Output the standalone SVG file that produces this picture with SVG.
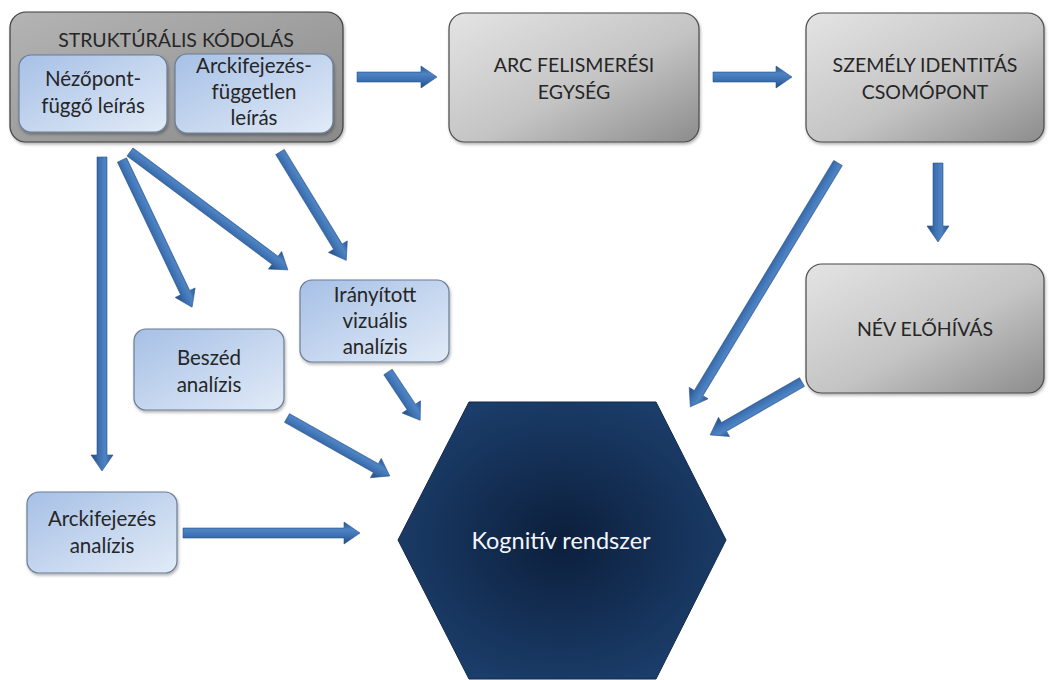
<svg xmlns="http://www.w3.org/2000/svg" width="1049" height="680" viewBox="0 0 1049 680">
  <defs>
    <linearGradient id="grayFill" x1="0" y1="0" x2="1" y2="1">
      <stop offset="0" stop-color="#e4e4e4"/>
      <stop offset="0.55" stop-color="#c4c4c4"/>
      <stop offset="1" stop-color="#8c8c8c"/>
    </linearGradient>
    <linearGradient id="outerFill" x1="0" y1="0" x2="1" y2="1">
      <stop offset="0" stop-color="#b4b4b4"/>
      <stop offset="1" stop-color="#8a8a8a"/>
    </linearGradient>
    <linearGradient id="blueFill" x1="0" y1="0" x2="1" y2="1">
      <stop offset="0" stop-color="#a6c0e6"/>
      <stop offset="1" stop-color="#e2ebf7"/>
    </linearGradient>
    <radialGradient id="hexFill" cx="0.5" cy="0.5" r="0.55">
      <stop offset="0" stop-color="#0c1f3c"/>
      <stop offset="1" stop-color="#1b3d6a"/>
    </radialGradient>
    <linearGradient id="arrowFill" x1="0" y1="0" x2="0" y2="1">
      <stop offset="0" stop-color="#2a5590"/>
      <stop offset="0.35" stop-color="#4f84c4"/>
      <stop offset="0.65" stop-color="#3b6fb0"/>
      <stop offset="1" stop-color="#24497e"/>
    </linearGradient>
    <filter id="shadow" x="-10%" y="-10%" width="125%" height="130%">
      <feDropShadow dx="1" dy="2" stdDeviation="1.5" flood-color="#000" flood-opacity="0.3"/>
    </filter>
  </defs>
  <style>
    .gray { fill: url(#grayFill); stroke: #4a4a4a; stroke-width: 1.2; filter: url(#shadow); }
    .outer { fill: url(#outerFill); stroke: #3c3c3c; stroke-width: 1.2; filter: url(#shadow); }
    .blue { fill: url(#blueFill); stroke: #6a7c96; stroke-width: 1.2; filter: url(#shadow); }
    .arrow { fill: url(#arrowFill); stroke: #2a5590; stroke-width: 0.6; }
    text { font-family: Lato, "Open Sans", "Liberation Sans", sans-serif; font-size: 20.5px; fill: #262626; text-anchor: middle; }
    .cap { font-size: 19.5px; }
    .white { fill: #f4f6fa; font-size: 23.5px; }
  </style>

  <rect width="1049" height="680" fill="#ffffff"/>

  <!-- connectors: block arrows, each drawn along +x then placed -->
  <g id="connectors">
    <polygon class="arrow" transform="translate(357,77)" points="0,-5 64,-5 64,-11 80,0 64,11 64,5 0,5"/>
    <polygon class="arrow" transform="translate(713,77)" points="0,-5 63,-5 63,-11 79,0 63,11 63,5 0,5"/>
    <polygon class="arrow" transform="translate(938,163) rotate(90)" points="0,-5 63,-5 63,-11 79,0 63,11 63,5 0,5"/>
    <polygon class="arrow" transform="translate(838,163) rotate(121.2)" points="0,-5 269,-5 269,-11 285,0 269,11 269,5 0,5"/>
    <polygon class="arrow" transform="translate(802,382) rotate(150.06)" points="0,-5 90,-5 90,-11 106,0 90,11 90,5 0,5"/>
    <polygon class="arrow" transform="translate(102,157) rotate(90)" points="0,-5 298,-5 298,-11 314,0 298,11 298,5 0,5"/>
    <polygon class="arrow" transform="translate(122,160) rotate(64.54)" points="0,-5 147,-5 147,-11 163,0 147,11 147,5 0,5"/>
    <polygon class="arrow" transform="translate(130,152) rotate(36.75)" points="0,-5 181,-5 181,-11 197,0 181,11 181,5 0,5"/>
    <polygon class="arrow" transform="translate(280,152) rotate(58.57)" points="0,-5 111,-5 111,-11 127,0 111,11 111,5 0,5"/>
    <polygon class="arrow" transform="translate(388,372) rotate(56.3)" points="0,-5 42,-5 42,-11 58,0 42,11 42,5 0,5"/>
    <polygon class="arrow" transform="translate(287,418) rotate(29.4)" points="0,-5 102,-5 102,-11 118,0 102,11 102,5 0,5"/>
    <polygon class="arrow" transform="translate(183,533)" points="0,-5 161,-5 161,-11 177,0 161,11 161,5 0,5"/>
  </g>

  <!-- structural encoding group with its two sub-descriptions -->
  <g id="strukturalis">
    <rect class="outer" x="10" y="12" width="333" height="130" rx="16"/>
    <text class="cap" x="176" y="47">STRUKTÚRÁLIS KÓDOLÁS</text>
  </g>
  <g id="nezopont">
    <rect class="blue" x="19" y="55" width="148" height="77" rx="12"/>
    <text x="93" y="86">Nézőpont-</text>
    <text x="93" y="113">függő leírás</text>
  </g>
  <g id="arckifejezes-fuggetlen">
    <rect class="blue" x="175" y="54" width="158" height="79" rx="12"/>
    <text x="254" y="73">Arckifejezés-</text>
    <text x="254" y="99">független</text>
    <text x="254" y="125">leírás</text>
  </g>

  <g id="arc-felismeresi">
    <rect class="gray" x="449" y="13" width="250" height="129" rx="16"/>
    <text class="cap" x="574" y="72">ARC FELISMERÉSI</text>
    <text class="cap" x="574" y="99">EGYSÉG</text>
  </g>

  <g id="szemely-identitas">
    <rect class="gray" x="806" y="13" width="238" height="129" rx="16"/>
    <text class="cap" x="925" y="72">SZEMÉLY IDENTITÁS</text>
    <text class="cap" x="925" y="99">CSOMÓPONT</text>
  </g>

  <g id="nev-elohivas">
    <rect class="gray" x="806" y="264" width="238" height="129" rx="16"/>
    <text class="cap" x="925" y="336">NÉV ELŐHÍVÁS</text>
  </g>

  <g id="iranyitott">
    <rect class="blue" x="300" y="280" width="149" height="82" rx="12"/>
    <text x="375" y="302">Irányított</text>
    <text x="375" y="328">vizuális</text>
    <text x="375" y="354">analízis</text>
  </g>

  <g id="beszed">
    <rect class="blue" x="134" y="329" width="150" height="81" rx="12"/>
    <text x="209" y="365">Beszéd</text>
    <text x="209" y="392">analízis</text>
  </g>

  <g id="arckifejezes-analizis">
    <rect class="blue" x="27" y="492" width="150" height="81" rx="12"/>
    <text x="102" y="526">Arckifejezés</text>
    <text x="102" y="553">analízis</text>
  </g>

  <g id="kognitiv">
    <polygon points="469,402 656,402 726,540 656,679 469,679 398,540" fill="url(#hexFill)" stroke="#10284a" stroke-width="1"/>
    <text class="white" x="561" y="549">Kognitív rendszer</text>
  </g>
</svg>
